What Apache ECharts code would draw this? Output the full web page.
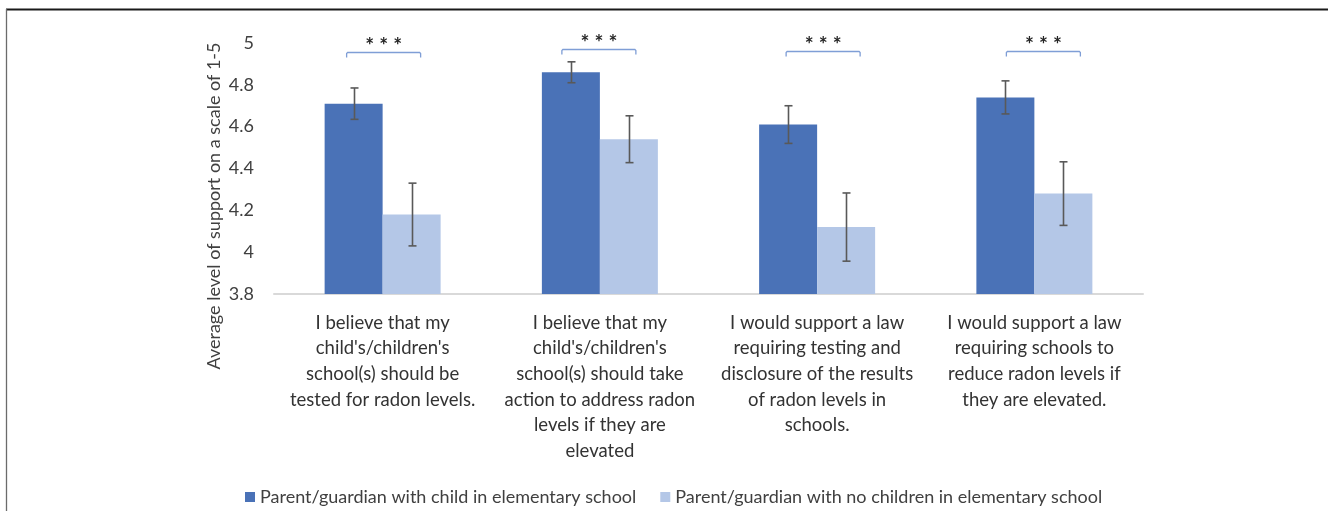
<!DOCTYPE html>
<html>
<head>
<meta charset="utf-8">
<script src="https://cdn.jsdelivr.net/npm/echarts@6/dist/echarts.min.js"></script>
<style>
html,body{margin:0;padding:0;background:#fff;}
#chart{width:1328px;height:511px;}
</style>
</head>
<body>
<div id="chart"></div>
<script>
// ---- data ----
const categories = [
  "I believe that my\nchild's/children's\nschool(s) should be\ntested for radon levels.",
  "I believe that my\nchild's/children's\nschool(s) should take\naction to address radon\nlevels if they are\nelevated",
  "I would support a law\nrequiring testing and\ndisclosure of the results\nof radon levels in\nschools.",
  "I would support a law\nrequiring schools to\nreduce radon levels if\nthey are elevated."
];
const seriesNames = [
  "Parent/guardian with child in elementary school",
  "Parent/guardian with no children in elementary school"
];
const withChild = [4.71, 4.86, 4.61, 4.74];
const withChildErr = [0.075, 0.05, 0.09, 0.079];
const noChild = [4.18, 4.54, 4.12, 4.28];
const noChildErr = [0.15, 0.112, 0.163, 0.152];
const significance = ["***", "***", "***", "***"];
const bracketLevel = [4.957, 4.971, 4.962, 4.962];
const yTicks = { min: 3.8, max: 5, interval: 0.2 };

// ---- layout / style constants ----
const FONT = "Lato, 'Open Sans', sans-serif";
const BAR_W = 58;
const bracketShift = [1, -1, 6, 9];
const BRACKET_HALF = 37;

function errorSeries(vals, errs, shift) {
  return {
    type: 'custom',
    z: 5,
    silent: true,
    data: vals.map((v, i) => [i, v - errs[i], v + errs[i]]),
    encode: { x: 0, y: [1, 2] },
    renderItem: function (params, api) {
      const lo = api.coord([api.value(0), api.value(1)]);
      const hi = api.coord([api.value(0), api.value(2)]);
      const cx = Math.round(lo[0] + shift) + 0.5;
      const st = { stroke: '#595959', lineWidth: 1.6 };
      return {
        type: 'group',
        children: [
          { type: 'line', shape: { x1: cx, y1: lo[1], x2: cx, y2: hi[1] }, style: st },
          { type: 'line', shape: { x1: cx - 4, y1: lo[1], x2: cx + 4, y2: lo[1] }, style: st },
          { type: 'line', shape: { x1: cx - 4, y1: hi[1], x2: cx + 4, y2: hi[1] }, style: st }
        ]
      };
    }
  };
}

const chart = echarts.init(document.getElementById('chart'), null, { renderer: 'canvas' });
chart.setOption({
  backgroundColor: '#fff',
  animation: false,
  textStyle: { fontFamily: FONT },
  grid: { left: 274, right: 185, top: 43, bottom: 217, containLabel: false },
  legend: {
    data: seriesNames,
    left: 240,
    top: 483,
    icon: 'rect',
    itemWidth: 10,
    itemHeight: 10,
    itemGap: 24,
    textStyle: { fontSize: 18, color: '#404040', fontFamily: FONT, padding: [0, 0, 0, 0] }
  },
  xAxis: {
    type: 'category',
    data: categories,
    axisLine: { show: true, lineStyle: { color: '#D9D9D9', width: 2 } },
    axisTick: { show: false },
    axisLabel: {
      interval: 0,
      fontSize: 18.5,
      lineHeight: 25.6,
      margin: 16,
      color: '#333333',
      fontFamily: FONT,
      align: 'center'
    }
  },
  yAxis: {
    type: 'value',
    min: yTicks.min,
    max: yTicks.max,
    interval: yTicks.interval,
    axisLine: { show: false },
    axisTick: { show: false },
    splitLine: { show: false },
    axisLabel: { fontSize: 18, color: '#404040', margin: 20, fontFamily: FONT }
  },
  graphic: [
    { type: 'line', shape: { x1: 6, y1: 9.5, x2: 1328, y2: 9.5 }, style: { stroke: '#1a1a1a', lineWidth: 2 }, silent: true },
    { type: 'line', shape: { x1: 6.5, y1: 9, x2: 6.5, y2: 511 }, style: { stroke: '#6b6b6b', lineWidth: 1.3 }, silent: true },
    {
      type: 'text', x: 214, y: 206, rotation: Math.PI / 2, silent: true,
      style: {
        text: 'Average level of support on a scale of 1-5',
        fontSize: 18, fontFamily: FONT, fill: '#404040',
        textAlign: 'center', textVerticalAlign: 'middle'
      }
    }
  ],
  series: [
    {
      name: seriesNames[0], type: 'bar', data: withChild,
      barWidth: BAR_W, barGap: '0%',
      itemStyle: { color: '#4A72B7' }
    },
    {
      name: seriesNames[1], type: 'bar', data: noChild,
      barWidth: BAR_W, barGap: '0%',
      itemStyle: { color: '#B4C7E7' }
    },
    errorSeries(withChild, withChildErr, -BAR_W / 2),
    errorSeries(noChild, noChildErr, BAR_W / 2),
    {
      type: 'custom',
      z: 6,
      silent: true,
      data: bracketLevel.map((v, i) => [i, v]),
      encode: { x: 0, y: 1 },
      renderItem: function (params, api) {
        const i = api.value(0);
        const p = api.coord([i, api.value(1)]);
        const cx = p[0] + bracketShift[i];
        const y = Math.round(p[1]) + 0.5;
        const x1 = cx - BRACKET_HALF, x2 = cx + BRACKET_HALF;
        return {
          type: 'group',
          children: [
            {
              type: 'polyline',
              shape: { points: [[x1, y + 5], [x1, y + 1], [x1 + 1, y], [x2 - 1, y], [x2, y + 1], [x2, y + 5]] },
              style: { stroke: '#7F9ED6', lineWidth: 1.3, fill: null }
            },
            {
              type: 'text',
              style: {
                text: significance[i].split('').join(' '),
                x: cx, y: y + 4,
                fontSize: 21, fontWeight: 'bold', fontFamily: FONT, fill: '#262626',
                textAlign: 'center', textVerticalAlign: 'bottom'
              }
            }
          ]
        };
      }
    }
  ]
});
</script>
</body>
</html>
